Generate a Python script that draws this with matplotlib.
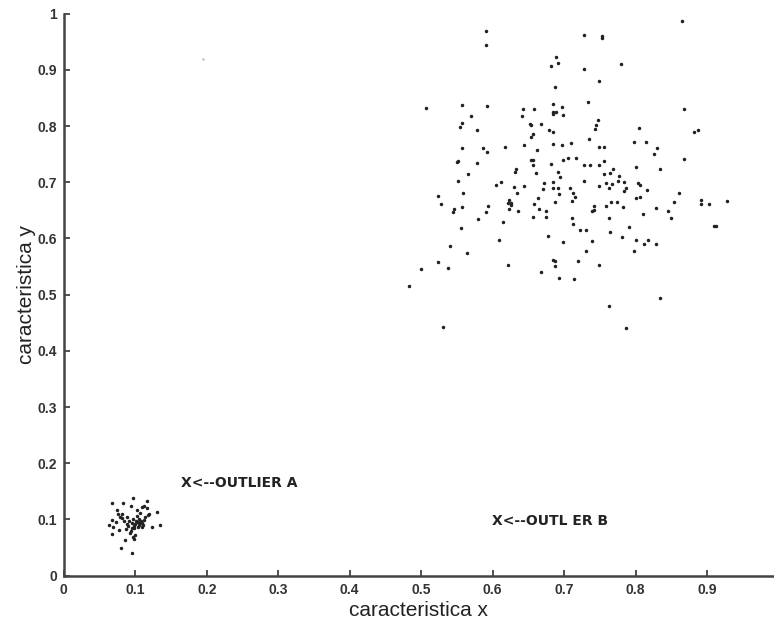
import numpy as np
import matplotlib.pyplot as plt

plt.rcParams['font.family'] = ['Liberation Sans', 'DejaVu Sans']

# cluster B (large group, upper right)
xb = [0.865, 0.590, 0.727, 0.753, 0.753, 0.591, 0.689, 0.681, 0.691, 0.728,
      0.780, 0.749, 0.687, 0.733, 0.507, 0.557, 0.592, 0.868, 0.643, 0.658,
      0.685, 0.684, 0.689, 0.684, 0.697, 0.699, 0.641, 0.569, 0.747, 0.745,
      0.743, 0.557, 0.554, 0.652, 0.653, 0.667, 0.578, 0.679, 0.684, 0.805,
      0.881, 0.887, 0.653, 0.656, 0.734, 0.798, 0.814, 0.557, 0.587, 0.592,
      0.617, 0.644, 0.662, 0.685, 0.697, 0.710, 0.749, 0.756, 0.830, 0.825,
      0.551, 0.550, 0.578, 0.654, 0.656, 0.656, 0.681, 0.698, 0.705, 0.716,
      0.727, 0.736, 0.748, 0.756, 0.800, 0.834, 0.868, 0.565, 0.633, 0.631,
      0.661, 0.691, 0.694, 0.756, 0.764, 0.768, 0.776, 0.784, 0.775, 0.551,
      0.605, 0.611, 0.630, 0.644, 0.672, 0.684, 0.684, 0.691, 0.727, 0.749,
      0.758, 0.767, 0.762, 0.708, 0.670, 0.634, 0.693, 0.712, 0.715, 0.803,
      0.806, 0.816, 0.787, 0.784, 0.558, 0.524, 0.861, 0.806, 0.800, 0.527,
      0.546, 0.544, 0.557, 0.593, 0.590, 0.579, 0.614, 0.623, 0.625, 0.622,
      0.625, 0.623, 0.635, 0.658, 0.664, 0.665, 0.675, 0.674, 0.657, 0.687,
      0.711, 0.711, 0.712, 0.722, 0.731, 0.742, 0.741, 0.739, 0.759, 0.765,
      0.774, 0.782, 0.762, 0.764, 0.791, 0.781, 0.800, 0.812, 0.817, 0.829,
      0.797, 0.810, 0.828, 0.845, 0.849, 0.854, 0.891, 0.891, 0.902, 0.928,
      0.910, 0.912, 0.556, 0.609, 0.677, 0.699, 0.739, 0.730, 0.540, 0.564,
      0.524, 0.500, 0.538, 0.621, 0.684, 0.687, 0.687, 0.719, 0.749, 0.667,
      0.693, 0.714, 0.483, 0.834, 0.763, 0.531, 0.787]
yb = [0.987, 0.969, 0.962, 0.960, 0.957, 0.944, 0.922, 0.907, 0.912, 0.902,
      0.910, 0.880, 0.870, 0.843, 0.832, 0.837, 0.835, 0.830, 0.830, 0.830,
      0.839, 0.825, 0.825, 0.821, 0.833, 0.820, 0.817, 0.817, 0.811, 0.801,
      0.795, 0.805, 0.798, 0.803, 0.801, 0.804, 0.793, 0.793, 0.789, 0.797,
      0.789, 0.793, 0.781, 0.785, 0.777, 0.772, 0.772, 0.761, 0.761, 0.753,
      0.763, 0.766, 0.757, 0.768, 0.767, 0.770, 0.763, 0.763, 0.761, 0.750,
      0.738, 0.736, 0.734, 0.739, 0.740, 0.730, 0.733, 0.739, 0.744, 0.744,
      0.730, 0.730, 0.730, 0.738, 0.727, 0.724, 0.741, 0.715, 0.724, 0.718,
      0.717, 0.718, 0.709, 0.714, 0.717, 0.724, 0.712, 0.701, 0.702, 0.702,
      0.695, 0.701, 0.691, 0.693, 0.698, 0.701, 0.689, 0.689, 0.702, 0.694,
      0.699, 0.697, 0.689, 0.690, 0.688, 0.680, 0.679, 0.680, 0.673, 0.699,
      0.695, 0.686, 0.689, 0.685, 0.680, 0.676, 0.680, 0.674, 0.672, 0.662,
      0.652, 0.647, 0.656, 0.657, 0.647, 0.635, 0.629, 0.668, 0.663, 0.663,
      0.660, 0.652, 0.649, 0.661, 0.672, 0.652, 0.649, 0.638, 0.638, 0.664,
      0.666, 0.636, 0.625, 0.615, 0.615, 0.658, 0.651, 0.649, 0.658, 0.664,
      0.664, 0.656, 0.637, 0.612, 0.620, 0.602, 0.597, 0.590, 0.597, 0.591,
      0.578, 0.644, 0.654, 0.648, 0.637, 0.665, 0.668, 0.661, 0.662, 0.667,
      0.623, 0.622, 0.618, 0.597, 0.605, 0.593, 0.596, 0.578, 0.586, 0.575,
      0.558, 0.546, 0.548, 0.553, 0.561, 0.559, 0.551, 0.559, 0.552, 0.541,
      0.529, 0.528, 0.515, 0.494, 0.480, 0.443, 0.440]

# cluster A (small group, lower left)
xa = [0.097, 0.068, 0.083, 0.117, 0.094, 0.074, 0.103, 0.109, 0.112, 0.131,
      0.119, 0.076, 0.082, 0.068, 0.082, 0.088, 0.097, 0.102, 0.107, 0.111,
      0.104, 0.100, 0.095, 0.063, 0.069, 0.077, 0.087, 0.094, 0.100, 0.124,
      0.135, 0.068, 0.086, 0.097, 0.099, 0.080, 0.095, 0.092, 0.098, 0.101,
      0.104, 0.106, 0.108, 0.110, 0.113, 0.105, 0.099, 0.090, 0.085, 0.079,
      0.114, 0.118, 0.107, 0.102, 0.096, 0.089, 0.093, 0.109, 0.116, 0.073]
ya = [0.138, 0.129, 0.129, 0.133, 0.124, 0.117, 0.117, 0.122, 0.124, 0.113,
      0.110, 0.110, 0.110, 0.099, 0.102, 0.105, 0.100, 0.096, 0.093, 0.090,
      0.087, 0.092, 0.094, 0.091, 0.087, 0.081, 0.083, 0.080, 0.073, 0.086,
      0.090, 0.075, 0.063, 0.068, 0.066, 0.049, 0.040, 0.097, 0.089, 0.098,
      0.095, 0.091, 0.097, 0.094, 0.099, 0.101, 0.085, 0.088, 0.098, 0.104,
      0.104, 0.108, 0.112, 0.106, 0.084, 0.092, 0.076, 0.086, 0.120, 0.095]

# a faint single mark near the top
xo = [0.195]
yo = [0.919]

xticks = np.arange(0, 1.0, 0.1)
yticks = np.arange(0, 1.01, 0.1)

fig = plt.figure(figsize=(7.74, 6.2), dpi=100)
ax = fig.add_axes([0.0823, 0.0715, 0.9177, 0.9065])

ax.plot(xb, yb, '.', color='#222222', markersize=3)
ax.plot(xa, ya, '.', color='#222222', markersize=3)
ax.plot(xo, yo, '.', color='#c8b8a8', markersize=1.5)

ax.text(0.164, 0.165, 'X<--OUTLIER A', fontsize=10, fontweight='bold', family='DejaVu Sans',
        va='center', ha='left', color='#222222')
ax.text(0.599, 0.097, 'X<--OUTL ER B', fontsize=10, fontweight='bold', family='DejaVu Sans',
        va='center', ha='left', color='#222222')

ax.set_xlim(0, 0.9934)
ax.set_ylim(0, 1)
ax.set_xticks(xticks)
ax.set_yticks(yticks)
ax.set_xticklabels(['0'] + ['%.1f' % v for v in xticks[1:]])
ax.set_yticklabels(['0'] + ['%.1f' % v for v in yticks[1:-1]] + ['1'])
ax.tick_params(direction='in', length=4, width=1.2, labelsize=10, colors='#333333', pad=5)
for lab in ax.get_xticklabels() + ax.get_yticklabels():
    lab.set_fontweight('bold')

ax.spines['top'].set_visible(False)
ax.spines['right'].set_visible(False)
ax.spines['left'].set_linewidth(1.8)
ax.spines['bottom'].set_linewidth(1.8)
ax.spines['left'].set_color('#444444')
ax.spines['bottom'].set_color('#444444')

ax.set_xlabel('caracteristica x', fontsize=15, color='#222222', labelpad=3)
ax.set_ylabel('caracteristica y', fontsize=15, color='#222222', labelpad=1)

fig.savefig('out.png', dpi=100)
